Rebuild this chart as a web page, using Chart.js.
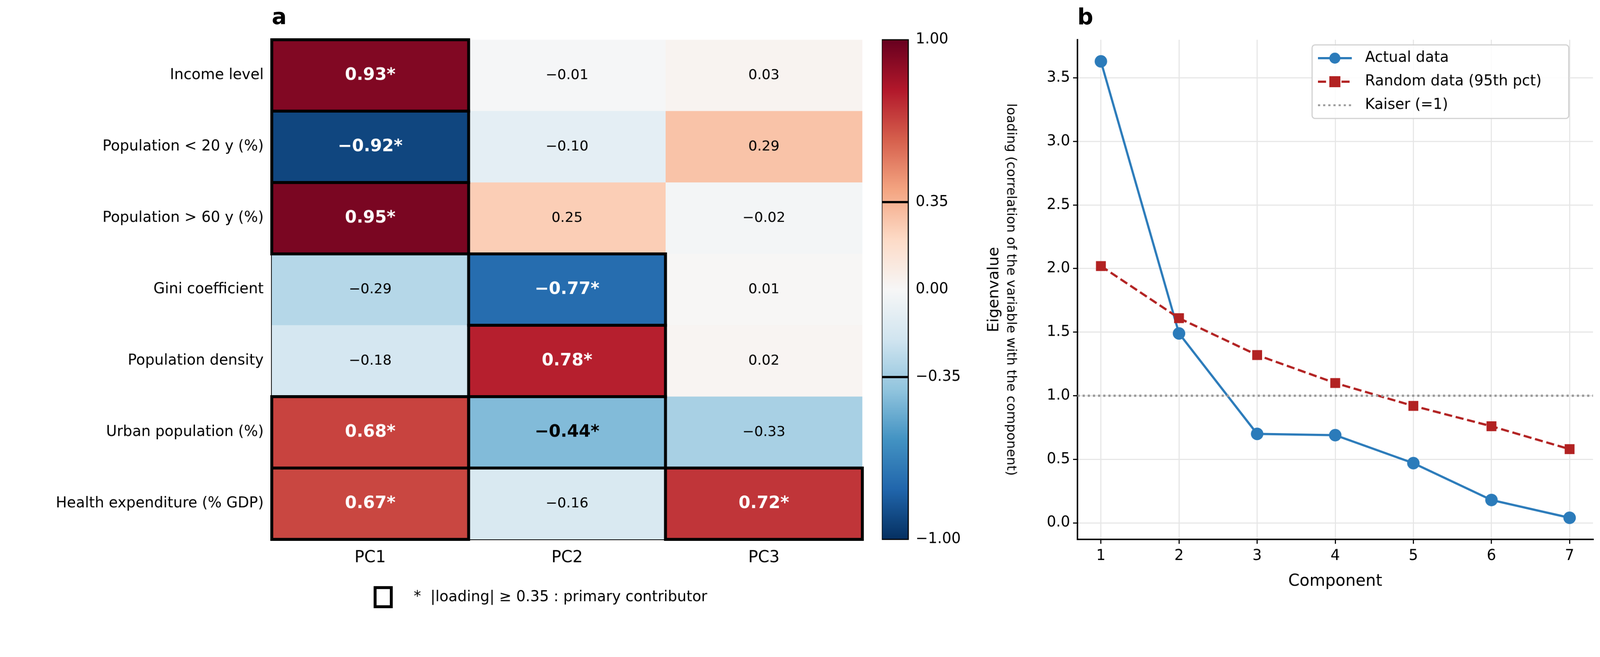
<!DOCTYPE html>
<html>
<head>
<meta charset="utf-8">
<script src="https://cdn.jsdelivr.net/npm/chart.js@4.4.1/dist/chart.umd.min.js"></script>
<style>
  html, body { margin: 0; background: #fff; overflow: hidden; }
  #page { width: 4351px; height: 1681px; position: relative; transform-origin: 0 0; font-family: "DejaVu Sans", sans-serif; }
  canvas { position: absolute; top: 0; }
  .panel { position: absolute; font-weight: bold; font-size: 60px; top: 10px; }
</style>
</head>
<body>
<div id="page">
<div class="panel" style="left:739px">a</div>
<div class="panel" style="left:2930px">b</div>
<canvas id="heat" width="2398" height="1681" style="left:0"></canvas>
<canvas id="cbar" width="372" height="1681" style="left:2398px"></canvas>
<canvas id="scree" width="1601" height="1681" style="left:2750px"></canvas>
<div style="position:absolute; left:2700px; top:787px; font-size:42px; transform:translate(-50%,-50%) rotate(-90deg); white-space:nowrap;">Eigenvalue</div>
</div>
<script>
// fit the fixed-size page into whatever viewport we get
const pg = document.getElementById('page');
const sc = Math.min(window.innerWidth / 4351, window.innerHeight / 1681);
pg.style.transform = 'scale(' + sc + ')';

Chart.defaults.font.family = '"DejaVu Sans", sans-serif';
Chart.defaults.color = '#000';

// Loadings (rows = variables, columns = components)
const variables = ['Income level', 'Population < 20 y (%)', 'Population > 60 y (%)', 'Gini coefficient',
  'Population density', 'Urban population (%)', 'Health expenditure (% GDP)'];
const components = ['PC1', 'PC2', 'PC3'];
const pc1 = [0.93, -0.92, 0.95, -0.29, -0.18, 0.68, 0.67];
const pc2 = [-0.01, -0.10, 0.25, -0.77, 0.78, -0.44, -0.16];
const pc3 = [0.03, 0.29, -0.02, 0.01, 0.02, -0.33, 0.72];
const threshold = 0.35;
const cbarTicks = [-1, -0.35, 0, 0.35, 1];

// Scree plot
const componentNums = [1, 2, 3, 4, 5, 6, 7];
const actualEig = [3.63, 1.49, 0.70, 0.69, 0.47, 0.18, 0.04];
const randomEig = [2.02, 1.61, 1.32, 1.10, 0.92, 0.76, 0.58];
const kaiser = 1;

// RdBu_r colormap
const stops = ['#053061', '#2166ac', '#4393c3', '#92c5de', '#d1e5f0', '#f7f7f7',
  '#fddbc7', '#f4a582', '#d6604d', '#b2182b', '#67001f'];
function hex(h) { return [1, 3, 5].map(i => parseInt(h.substr(i, 2), 16)); }
function cmap(v) {
  const t = Math.max(0, Math.min(1, (v + 1) / 2)) * (stops.length - 1);
  const i = Math.min(Math.floor(t), stops.length - 2), f = t - i;
  const a = hex(stops[i]), b = hex(stops[i + 1]);
  return 'rgb(' + a.map((c, k) => Math.round(c + (b[k] - c) * f)).join(',') + ')';
}

const cols = [pc1, pc2, pc3];

const heatPlugin = {
  id: 'heatDecor',
  afterDatasetsDraw(chart) {
    const ctx = chart.ctx, x = chart.scales.x, y = chart.scales.y;
    const rowH = (y.bottom - y.top) / variables.length;
    ctx.save();
    ctx.textAlign = 'center'; ctx.textBaseline = 'middle';
    cols.forEach((col, c) => {
      col.forEach((v, r) => {
        const cx = x.getPixelForValue(c + 0.5), cy = y.getPixelForValue(r);
        const sig = Math.abs(v) >= threshold;
        const txt = (v < 0 ? '\u2212' : '') + Math.abs(v).toFixed(2) + (sig ? '*' : '');
        ctx.font = (sig ? 'bold 46px' : '38px') + ' "DejaVu Sans"';
        ctx.fillStyle = Math.abs(v) > 0.5 ? '#fff' : '#000';
        ctx.fillText(txt, cx, cy);
      });
    });
    ctx.strokeStyle = '#000'; ctx.lineWidth = 8;
    cols.forEach((col, c) => {
      col.forEach((v, r) => {
        if (Math.abs(v) < threshold) return;
        const x0 = x.getPixelForValue(c), x1 = x.getPixelForValue(c + 1);
        const y0 = y.getPixelForValue(r) - rowH / 2;
        ctx.strokeRect(x0, y0, x1 - x0, rowH);
      });
    });
    // legend note
    ctx.strokeRect(1020, 1597, 44, 52);
    ctx.font = '40px "DejaVu Sans"'; ctx.textAlign = 'left'; ctx.fillStyle = '#000';
    ctx.fillText('*  |loading| \u2265 0.35 : primary contributor', 1125, 1624);
    ctx.restore();
  }
};

new Chart(document.getElementById('heat'), {
  type: 'bar',
  data: {
    labels: variables,
    datasets: cols.map((col, c) => ({
      label: components[c],
      data: col.map(() => 1),
      backgroundColor: col.map(cmap),
      borderWidth: 0,
      barPercentage: 1.0,
      categoryPercentage: 1.0
    }))
  },
  options: {
    indexAxis: 'y', responsive: false, animation: false, devicePixelRatio: 1,
    layout: { padding: { top: 108, right: 53, left: 0, bottom: 0 } },
    plugins: { legend: { display: false }, tooltip: { enabled: false } },
    scales: {
      x: {
        stacked: true, min: 0, max: 3,
        afterFit(s) { s.height = 215; },
        afterBuildTicks(s) { s.ticks = [0.5, 1.5, 2.5].map(v => ({ value: v })); },
        ticks: { font: { size: 44 }, padding: 12, callback: (v, i) => components[i] },
        grid: { display: false, drawTicks: true, tickLength: 12, tickColor: '#000', tickWidth: 3 },
        border: { color: '#000', width: 4 }
      },
      y: {
        stacked: true,
        afterFit(s) { s.width = 739; },
        ticks: { font: { size: 40 }, padding: 10 },
        grid: { display: false, drawTicks: true, tickLength: 12, tickColor: '#000', tickWidth: 3 },
        border: { color: '#000', width: 4 }
      }
    }
  },
  plugins: [heatPlugin]
});

// Colour bar
const cbarPlugin = {
  id: 'cbarMarks',
  afterDatasetsDraw(chart) {
    const ctx = chart.ctx, y = chart.scales.y, a = chart.chartArea;
    ctx.save(); ctx.strokeStyle = '#000'; ctx.lineWidth = 6;
    [-threshold, threshold].forEach(v => {
      const py = y.getPixelForValue(v);
      ctx.beginPath(); ctx.moveTo(a.left, py); ctx.lineTo(a.right, py); ctx.stroke();
    });
    ctx.lineWidth = 3; ctx.strokeRect(a.left, a.top, a.right - a.left, a.bottom - a.top);
    ctx.restore();
  }
};
new Chart(document.getElementById('cbar'), {
  type: 'bar',
  data: {
    labels: ['loading'],
    datasets: [{
      data: [[-1, 1]],
      barPercentage: 1.0, categoryPercentage: 1.0, borderWidth: 0,
      backgroundColor(ctx) {
        const a = ctx.chart.chartArea;
        if (!a) return '#fff';
        const g = ctx.chart.ctx.createLinearGradient(0, a.bottom, 0, a.top);
        stops.forEach((s, i) => g.addColorStop(i / (stops.length - 1), s));
        return g;
      }
    }]
  },
  options: {
    responsive: false, animation: false, devicePixelRatio: 1,
    layout: { padding: { top: 108, left: 0, right: 0, bottom: 215 } },
    plugins: { legend: { display: false }, tooltip: { enabled: false } },
    scales: {
      x: { display: false },
      y: {
        position: 'right', min: -1, max: 1,
        afterFit(s) { s.width = 300; },
        afterBuildTicks(s) { s.ticks = cbarTicks.map(v => ({ value: v })); },
        ticks: { font: { size: 40 }, padding: 8,
          callback: v => (v < 0 ? '\u2212' : '') + Math.abs(v).toFixed(2) },
        grid: { display: false, drawTicks: true, tickLength: 12, tickColor: '#000', tickWidth: 3 },
        border: { display: false },
        title: { display: true, text: 'loading (correlation of the variable with the component)',
          font: { size: 36 }, padding: 0 }
      }
    }
  },
  plugins: [cbarPlugin]
});

// Scree plot
const legendPlugin = {
  id: 'insideLegend',
  afterDraw(chart) {
    const ctx = chart.ctx;
    const bx = 818, by = 122, bw = 698, bh = 200;
    ctx.save();
    ctx.fillStyle = 'rgba(255,255,255,0.85)';
    ctx.strokeStyle = '#d0d0d0'; ctx.lineWidth = 3;
    ctx.beginPath(); ctx.roundRect(bx, by, bw, bh, 8); ctx.fill(); ctx.stroke();
    const items = [
      { t: 'Actual data', c: '#2b7bba', dash: [], m: 'circle', lw: 6 },
      { t: 'Random data (95th pct)', c: '#b22222', dash: [22, 10], m: 'square', lw: 6 },
      { t: 'Kaiser (=1)', c: '#999999', dash: [6, 8], m: null, lw: 5 }
    ];
    items.forEach((it, i) => {
      const yy = by + 36 + i * 64;
      ctx.strokeStyle = it.c; ctx.lineWidth = it.lw; ctx.setLineDash(it.dash);
      ctx.beginPath(); ctx.moveTo(bx + 16, yy); ctx.lineTo(bx + 108, yy); ctx.stroke();
      ctx.setLineDash([]); ctx.fillStyle = it.c;
      if (it.m === 'circle') { ctx.beginPath(); ctx.arc(bx + 62, yy, 15, 0, Math.PI * 2); ctx.fill(); }
      if (it.m === 'square') ctx.fillRect(bx + 47, yy - 15, 30, 30);
      ctx.fillStyle = '#000'; ctx.font = '40px "DejaVu Sans"'; ctx.textBaseline = 'middle';
      ctx.fillText(it.t, bx + 144, yy);
    });
    ctx.restore();
  }
};
const xMin = 0.7, xMax = 7.3;
new Chart(document.getElementById('scree'), {
  type: 'scatter',
  data: {
    datasets: [
      { label: 'Kaiser (=1)', data: [{ x: xMin, y: kaiser }, { x: xMax, y: kaiser }], showLine: true,
        borderColor: '#999999', borderWidth: 6, borderDash: [6, 8], pointRadius: 0 },
      { label: 'Random data (95th pct)', data: componentNums.map((c, i) => ({ x: c, y: randomEig[i] })),
        showLine: true, borderColor: '#b22222', backgroundColor: '#b22222', borderWidth: 6,
        borderDash: [22, 10], pointStyle: 'rect', pointRadius: 19, pointBorderWidth: 0 },
      { label: 'Actual data', data: componentNums.map((c, i) => ({ x: c, y: actualEig[i] })),
        showLine: true, borderColor: '#2b7bba', backgroundColor: '#2b7bba', borderWidth: 6,
        pointRadius: 17, pointBorderWidth: 0 }
    ]
  },
  options: {
    responsive: false, animation: false, devicePixelRatio: 1,
    layout: { padding: { top: 108, right: 12, left: 0, bottom: 70 } },
    plugins: { legend: { display: false }, tooltip: { enabled: false } },
    scales: {
      x: {
        type: 'linear', min: xMin, max: xMax,
        afterFit(s) { s.height = 145; },
        afterBuildTicks(s) { s.ticks = componentNums.map(v => ({ value: v })); },
        ticks: { font: { size: 40 }, padding: 10 },
        grid: { color: '#e6e6e6', lineWidth: 3, tickColor: '#000', tickLength: 12, tickWidth: 3 },
        border: { color: '#000', width: 4 },
        title: { display: true, text: 'Component', font: { size: 44 }, padding: { top: 4 } }
      },
      y: {
        min: -0.13, max: 3.8,
        afterFit(s) { s.width = 180; },
        afterBuildTicks(s) { s.ticks = [0, 0.5, 1, 1.5, 2, 2.5, 3, 3.5].map(v => ({ value: v })); },
        ticks: { font: { size: 40 }, padding: 8, callback: v => v.toFixed(1) },
        grid: { color: '#e6e6e6', lineWidth: 3, tickColor: '#000', tickLength: 12, tickWidth: 3 },
        border: { color: '#000', width: 4 }
      }
    }
  },
  plugins: [legendPlugin]
});
</script>
</body>
</html>
